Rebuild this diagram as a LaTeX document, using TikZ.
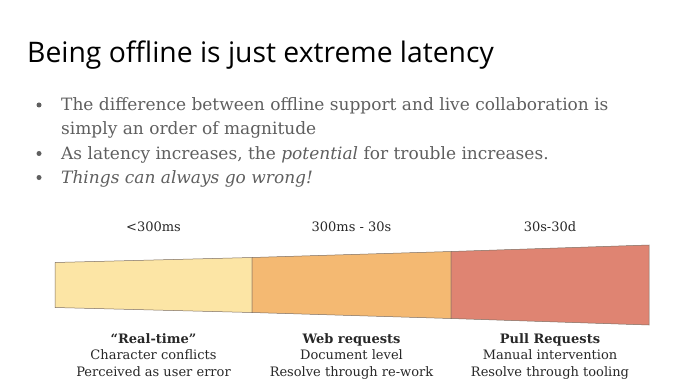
\documentclass[tikz,border=0pt]{standalone}
\usepackage{fontspec}
\setmainfont{DejaVu Serif}
\newfontfamily\titlefont{Open Sans}
\usetikzlibrary{positioning}
\definecolor{bandyellow}{RGB}{252,229,165}
\definecolor{bandorange}{RGB}{244,185,114}
\definecolor{bandred}{RGB}{223,132,114}
\definecolor{bodygrey}{RGB}{95,95,95}
\definecolor{labelgrey}{RGB}{40,40,40}
\definecolor{edgegrey}{RGB}{125,110,98}

\begin{document}
\begin{tikzpicture}[
  x=1pt, y=-1pt,
  band/.style={draw=edgegrey, line width=0.5pt},
  rangelabel/.style={inner sep=0pt, font=\fontsize{13}{15}\selectfont, text=labelgrey},
  caplabel/.style={inner sep=0pt, align=center, font=\fontsize{13}{16.3}\selectfont, text=labelgrey},
  bulletitem/.style={anchor=base west, inner sep=0pt, align=left, font=\fontsize{17}{24.3}\selectfont, text=bodygrey},
  bulletdot/.style={circle, fill=bodygrey, inner sep=0pt, minimum size=5pt}
]
\fill[white] (0,0) rectangle (700,390);
\useasboundingbox (0,0) rectangle (700,390);

% title and bullets
\node[anchor=base west, inner sep=0pt, font=\titlefont\fontsize{28.3}{30}\selectfont] (title) at (27,63) {Being offline is just extreme latency};

\node[bulletitem] (b1) at (61,135) {The difference between offline support and live collaboration is\\simply an order of magnitude};
\node[bulletitem] (b2) at (61,159) {As latency increases, the \textit{potential} for trouble increases.};
\node[bulletitem] (b3) at (61,183) {\textit{Things can always go wrong!}};
\node[bulletdot] (d1) at (39,105) {};
\node[bulletdot] (d2) at (39,153.5) {};
\node[bulletdot] (d3) at (39,177.5) {};

% latency band
\coordinate (a0t) at (55,262.5);  \coordinate (a0b) at (55,307.5);
\coordinate (a1t) at (252,257.5); \coordinate (a1b) at (252,312.5);
\coordinate (a2t) at (451,251.5); \coordinate (a2b) at (451,318.5);
\coordinate (a3t) at (649,245);   \coordinate (a3b) at (649,325);

\draw[band, fill=bandyellow] (a0t) -- (a1t) -- (a1b) -- (a0b) -- cycle;
\draw[band, fill=bandorange] (a1t) -- (a2t) -- (a2b) -- (a1b) -- cycle;
\draw[band, fill=bandred] (a2t) -- (a3t) -- (a3b) -- (a2b) -- cycle;

\coordinate (c1) at (153.5,285);
\coordinate (c2) at (351.5,285);
\coordinate (c3) at (550,285);

\node[rangelabel, above=53pt of c1] (r1) {<300ms};
\node[rangelabel, above=53pt of c2] (r2) {300ms - 30s};
\node[rangelabel, above=53pt of c3] (r3) {30s-30d};

\node[caplabel, below=48.5pt of c1] (t1) {\textbf{“Real-time”}\\Character conflicts\\Perceived as user error};
\node[caplabel, below=48.5pt of c2] (t2) {\textbf{Web requests}\\Document level\\Resolve through re-work};
\node[caplabel, below=48.5pt of c3] (t3) {\textbf{Pull Requests}\\Manual intervention\\Resolve through tooling};
\end{tikzpicture}
\end{document}
